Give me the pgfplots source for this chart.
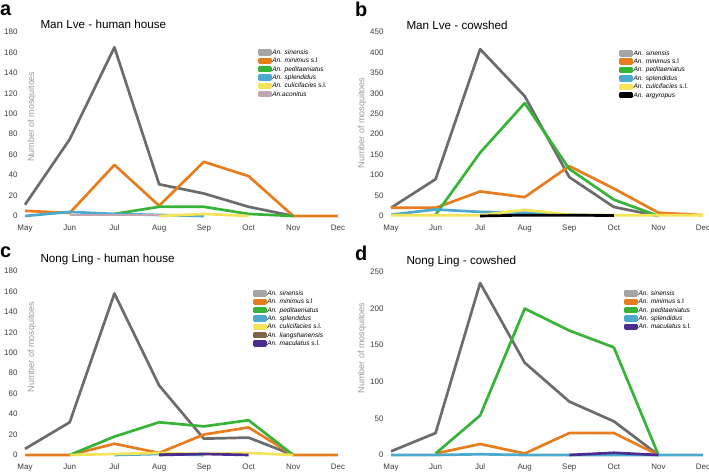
\documentclass[border=0pt]{standalone}
\usepackage{fontspec}
\setmainfont{Liberation Sans}
\usepackage{pgfplots}
\pgfplotsset{compat=1.18}

\definecolor{cgray}{RGB}{108,108,108}
\definecolor{cgrayl}{RGB}{165,165,165}
\definecolor{corange}{RGB}{232,125,30}
\definecolor{cgreen}{RGB}{55,180,55}
\definecolor{cblue}{RGB}{75,170,205}
\definecolor{cyellow}{RGB}{245,228,90}
\definecolor{cmauve}{RGB}{195,165,180}
\definecolor{cbrown}{RGB}{130,100,70}
\definecolor{cpurple}{RGB}{75,45,145}
\definecolor{ticktext}{RGB}{60,60,60}

\pgfplotsset{
  panel/.style={
    scale only axis, clip=false,
    xmin=0, xmax=7, ymin=0,
    axis x line*=bottom, axis y line*=left,
    axis line style={draw=none}, major tick length=0pt,
    xtick={0,...,7},
    xticklabels={May,Jun,Jul,Aug,Sep,Oct,Nov,Dec},
    tick label style={font=\fontsize{8}{9}\selectfont, text=ticktext},
    xticklabel style={yshift=-5.5bp},
    yticklabel style={xshift=-4bp},
    /pgf/number format/assume math mode=true,
    ylabel={Number of mosquitoes},
    ylabel style={font=\fontsize{9}{10}\selectfont, text=gray!80, anchor=center},
    legend cell align=left,
    legend style={draw=none, fill=none, anchor=north west,
      font=\fontsize{6.6}{7}\selectfont, inner sep=0pt, row sep=0pt,
      nodes={inner sep=0.6pt, text height=5.5pt, text depth=1.7pt}},
    every axis plot/.append style={line width=2.7pt, line join=round, mark=none},
    legend image code/.code={\fill (0bp,-1.9bp) rectangle (11bp,1.9bp);},
  },
  grayleg/.style={legend image code/.code={\fill[cgrayl] (0bp,-1.9bp) rectangle (11bp,1.9bp);}},
}

\begin{document}
\begin{tikzpicture}[x=1bp,y=1bp]
\path[use as bounding box] (0,0) rectangle (709,472);

% ---------- a ----------
\begin{axis}[panel, at={(25bp,256bp)}, width=313bp, height=184bp,
  ymax=180, ytick={0,20,...,180},
  ylabel style={at={(axis description cs:0.022,0.54)}},
  legend style={at={(axis description cs:0.744,0.913)}}]
\addplot[color=cgray, grayleg] coordinates {(0,11)(1,75)(2,165)(3,31)(4,22)(5,9)(6,0)};
\addplot[color=corange] coordinates {(0,5)(1,3)(2,50)(3,10)(4,53)(5,39)(6,0)(7,0)};
\addplot[color=cgreen] coordinates {(2,2)(3,9)(4,9)(5,2)(6,0)};
\addplot[color=cblue] coordinates {(0,0)(1,4)(2,2)(3,1)(4,0)};
\addplot[color=cyellow] coordinates {(3,0)(4,2)(5,0)};
\addplot[color=cmauve] coordinates {(1,1)(2,1)(3,1)};
\legend{{\itshape An. sinensis},{\itshape An. minimus} s.l,{\itshape An. peditaeniatus},
  {\itshape An. splendidus},{\itshape An. culicifacies} s.l.,{\itshape An.aconitus}}
\end{axis}

% ---------- b ----------
\begin{axis}[panel, at={(391bp,256bp)}, width=312bp, height=184bp,
  ymax=450, ytick={0,50,...,450},
  ylabel style={at={(axis description cs:-0.093,0.505)}},
  legend style={at={(axis description cs:0.731,0.908)}}]
\addplot[color=cgray, grayleg] coordinates {(0,20)(1,90)(2,408)(3,293)(4,95)(5,22)(6,0)};
\addplot[color=corange] coordinates {(0,20)(1,20)(2,60)(3,46)(4,122)(5,67)(6,8)(7,2)};
\addplot[color=cgreen] coordinates {(1,3)(2,155)(3,276)(4,115)(5,40)(6,0)};
\addplot[color=cblue] coordinates {(0,3)(1,16)(2,10)(3,8)(4,3)(5,1)};
\addplot[color=cyellow] coordinates {(0,2)(1,2)(2,2)(3,15)(4,3)(5,2)(6,2)(7,2)};
\addplot[color=black] coordinates {(2,0)(3,2)(4,2)(5,1)};
\legend{{\itshape An. sinensis},{\itshape An. minimus} s.l,{\itshape An. peditaeniatus},
  {\itshape An. splendidus},{\itshape An. culicifacies} s.l.,{\itshape An. argyropus}}
\end{axis}

% ---------- c ----------
\begin{axis}[panel, at={(25bp,17bp)}, width=313bp, height=184bp,
  ymax=180, ytick={0,20,...,180},
  ylabel style={at={(axis description cs:0.022,0.587)}},
  legend style={at={(axis description cs:0.728,0.902)}}]
\addplot[color=cgray, grayleg] coordinates {(0,6)(1,32)(2,158)(3,68)(4,16)(5,17)(6,0)};
\addplot[color=corange] coordinates {(0,0)(1,0)(2,11)(3,2)(4,20)(5,27)(6,0)(7,0)};
\addplot[color=cgreen] coordinates {(1,0)(2,18)(3,32)(4,28)(5,34)(6,0)};
\addplot[color=cblue] coordinates {(2,0)(3,1)(4,0)};
\addplot[color=cyellow] coordinates {(1,0)(2,1)(3,2)(4,1)(5,2)(6,0)};
\addplot[color=cbrown] coordinates {(3,1)(4,1)};
\addplot[color=cpurple] coordinates {(3,0)(4,1)(5,0)};
\legend{{\itshape An. sinensis},{\itshape An. minimus} s.l,{\itshape An. peditaeniatus},
  {\itshape An. splendidus},{\itshape An. culicifacies} s.l.,{\itshape An. liangshanensis},
  {\itshape An. maculatus} s.l.}
\end{axis}

% ---------- d ----------
\begin{axis}[panel, at={(391bp,17bp)}, width=312bp, height=183bp,
  ymax=250, ytick={0,50,...,250},
  ylabel style={at={(axis description cs:-0.093,0.585)}},
  legend style={at={(axis description cs:0.747,0.907)}}]
\addplot[color=cgray, grayleg] coordinates {(0,5)(1,30)(2,235)(3,126)(4,73)(5,46)(6,0)};
\addplot[color=corange] coordinates {(1,2)(2,15)(3,2)(4,30)(5,30)(6,0)};
\addplot[color=cgreen] coordinates {(1,2)(2,54)(3,200)(4,170)(5,147)(6,0)};
\addplot[color=cblue] coordinates {(0,0)(1,0)(2,1)(3,0)(4,0)(5,0)(6,0)(7,0)};
\addplot[color=cpurple] coordinates {(4,0)(5,3)(6,0)};
\legend{{\itshape An. sinensis},{\itshape An. minimus} s.l,{\itshape An. peditaeniatus},
  {\itshape An. splendidus},{\itshape An. maculatus} s.l.}
\end{axis}

% titles and panel letters
\node[anchor=west, font=\fontsize{11.7}{13}\selectfont] at (37,448) {Man Lve - human house};
\node[anchor=west, font=\fontsize{11.7}{13}\selectfont] at (403,447) {Man Lve - cowshed};
\node[anchor=west, font=\fontsize{11.7}{13}\selectfont] at (37,213) {Nong Ling - human house};
\node[anchor=west, font=\fontsize{11.7}{13}\selectfont] at (403,211) {Nong Ling - cowshed};
\node[anchor=west, inner sep=0pt, font=\fontsize{20}{22}\bfseries] at (0,462) {a};
\node[anchor=west, inner sep=0pt, font=\fontsize{20}{22}\bfseries] at (355,463) {b};
\node[anchor=west, inner sep=0pt, font=\fontsize{20}{22}\bfseries] at (0,220) {c};
\node[anchor=west, inner sep=0pt, font=\fontsize{20}{22}\bfseries] at (355,219) {d};
\end{tikzpicture}
\end{document}
